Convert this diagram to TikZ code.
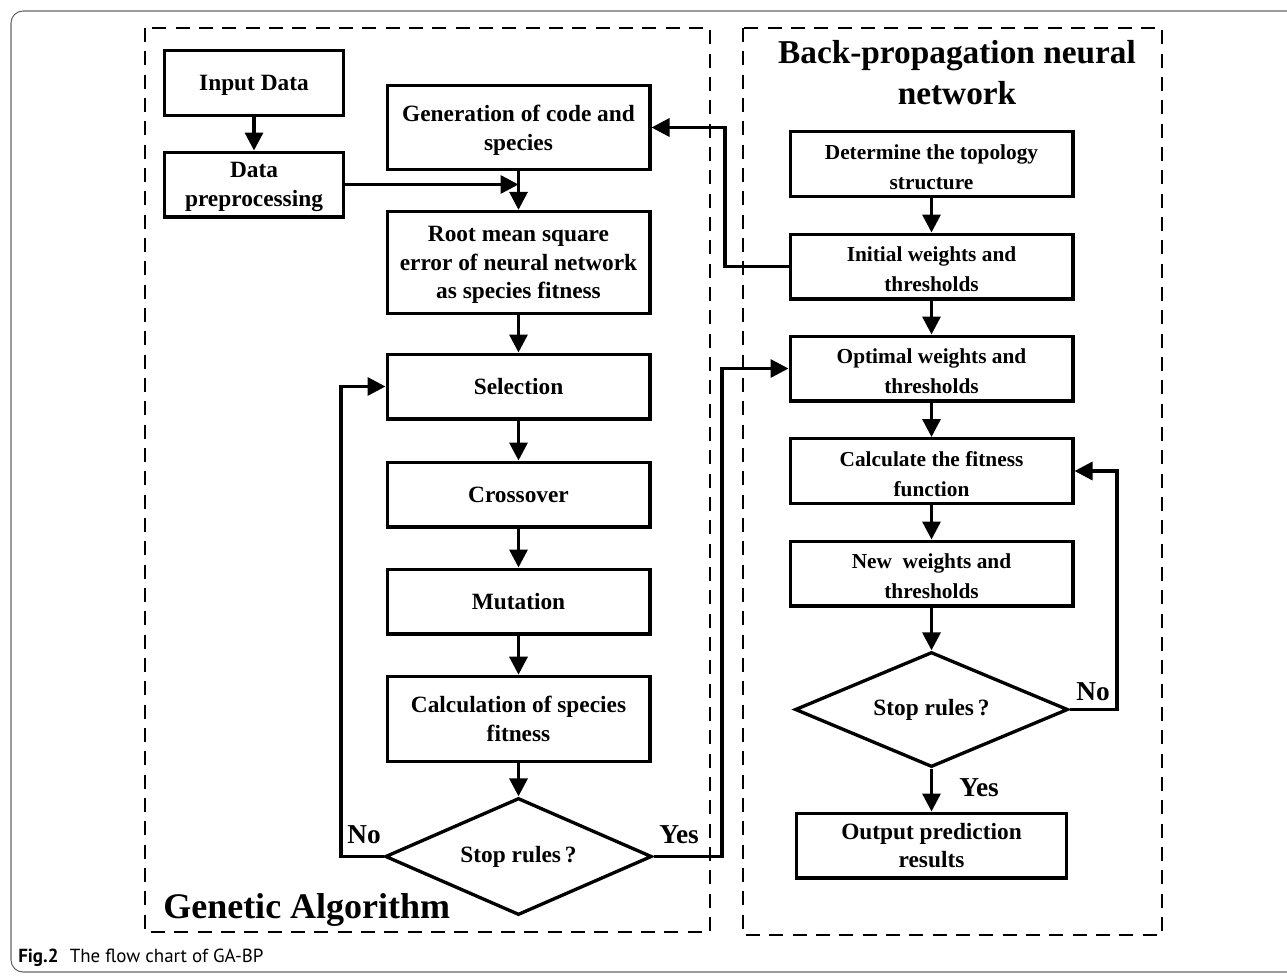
\documentclass[tikz,border=0pt]{standalone}
\usepackage{fontspec}
\setmainfont{Liberation Serif}
\newfontfamily\capfont{PT Sans}
\usetikzlibrary{arrows.meta,shapes.geometric,calc}
\begin{document}
\begin{tikzpicture}[x=0.75pt,y=-0.75pt,
  box/.style={draw,line width=2.5pt,align=center,inner sep=0pt},
  lbox/.style={box,minimum width=197pt,text depth=-1pt,font=\bfseries\fontsize{17.5}{21.5}\selectfont},
  rbox/.style={box,minimum width=212pt,minimum height=48.5pt,text height=37.5pt,text depth=0pt,font=\bfseries\fontsize{16}{22.5}\selectfont},
  dia/.style={draw,diamond,aspect=2.3,line width=2.5pt,inner sep=0pt,align=center,font=\bfseries\fontsize{17.5}{20}\selectfont},
  conn/.style={line width=2.5pt,-{Triangle[length=13.5pt,width=13.5pt]}},
  frame/.style={draw,line width=1.5pt,dash pattern=on 10.5pt off 7pt},
  lbl/.style={font=\bfseries\fontsize{20.5}{22}\selectfont,inner sep=0pt},
  title/.style={font=\bfseries\fontsize{25}{30.75}\selectfont,align=center,inner sep=0pt}]
\useasboundingbox (0,0) rectangle (1287,975);
\clip (0,0) rectangle (1287,975);
\draw[gray!80!black,line width=0.8pt,rounded corners=9pt] (11,11) rectangle (1310,972);
% dashed frames
\draw[frame] (145,28) rectangle (710,932);
\draw[frame] (743,28) rectangle (1162,935);
% left column
\node[lbox,minimum width=134pt,minimum height=48.5pt] (inp) at (254,83) {Input Data};
\node[lbox,minimum width=134pt,minimum height=48.5pt] (dp) at (254,184.5) {Data\\preprocessing};
\node[lbox,minimum height=63pt] (gen) at (518.5,127.5) {Generation of code and\\species};
\node[lbox,minimum height=76.5pt] (rms) at (518.5,262.5) {Root mean square\\error of neural network\\as species fitness};
\node[lbox,minimum height=48.5pt] (sel) at (518.5,386.5) {Selection};
\node[lbox,minimum height=48.5pt] (cro) at (518.5,494.5) {Crossover};
\node[lbox,minimum height=48.5pt] (mut) at (518.5,601.5) {Mutation};
\node[lbox,minimum height=64pt] (cal) at (518.5,719) {Calculation of species\\fitness};
\node[dia,minimum width=200pt,minimum height=87.75pt] (gad) at (518.5,856.5) {Stop rules\,?};
% right column
\node[rbox] (det) at (931.5,164) {Determine the topology\\structure};
\node[rbox] (ini) at (931.5,266.5) {Initial weights and\\thresholds};
\node[rbox] (opt) at (931.5,368.5) {Optimal weights and\\thresholds};
\node[rbox] (cfit) at (931.5,471) {Calculate the fitness\\function};
\node[rbox] (new) at (931.5,573.5) {New~~weights and\\thresholds};
\node[dia,minimum width=204.75pt,minimum height=86.25pt] (bpd) at (931.5,709.5) {Stop rules\,?};
\node[lbox,minimum width=202.5pt,minimum height=48.5pt] (out) at (931.5,845.5) {Output prediction\\results};
% titles
\node[title] (bpt) at (957,73) {Back-propagation neural\\network};
\node[font=\bfseries\fontsize{27}{30}\selectfont,anchor=west,inner sep=0pt] (gat) at (163,910) {Genetic Algorithm};
\node[anchor=west,inner sep=0pt,font=\capfont\fontsize{14.2}{16}\selectfont] (cap) at (18,958) {\textbf{Fig.2}\,\, The flow chart of GA-BP};
% connectors left
\draw[conn] (inp) -- (dp);
\draw[conn] (gen) -- (rms);
\coordinate (jn) at (gen.south |- dp.east);
\draw[conn] (dp.east) -- (jn);
\draw[conn] (rms) -- (sel);
\draw[conn] (sel) -- (cro);
\draw[conn] (cro) -- (mut);
\draw[conn] (mut) -- (cal);
\draw[conn] (cal) -- (gad);
\coordinate (noL) at (341,856.5);
\draw[conn] (gad.west) -- (noL) |- (sel.west);
\coordinate (yesR) at (722,856.5);
\draw[conn] (gad.east) -- (yesR) |- (opt.west);
\coordinate (iniL) at (725,266.5);
\draw[conn] (ini.west) -- (iniL) |- (gen.east);
% connectors right
\draw[conn] (det) -- (ini);
\draw[conn] (ini) -- (opt);
\draw[conn] (opt) -- (cfit);
\draw[conn] (cfit) -- (new);
\draw[conn] (new) -- (bpd);
\draw[conn] (bpd) -- (out);
\coordinate (noR) at (1117,709.5);
\draw[conn] (bpd.east) -- (noR) |- (cfit.east);
% labels
\node[lbl] (lno) at (364,835) {No};
\node[lbl] (lyes) at (679,835) {Yes};
\node[lbl] (rno) at (1093,692) {No};
\node[lbl] (ryes) at (979,788) {Yes};
\end{tikzpicture}
\end{document}
